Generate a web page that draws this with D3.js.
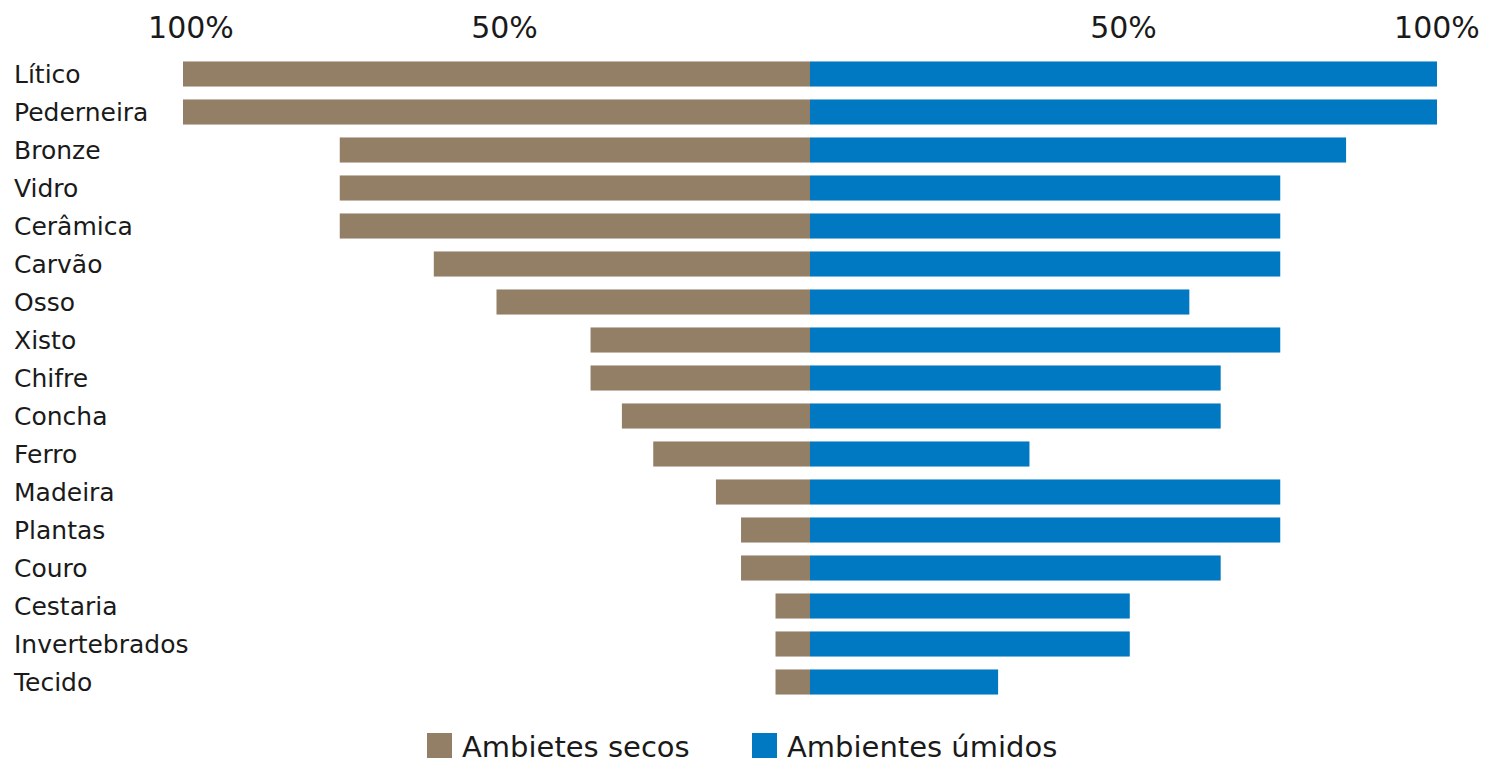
<!DOCTYPE html>
<html lang="pt">
<head>
  <meta charset="UTF-8">
  <title>Ambientes secos x úmidos</title>
  <script src="https://d3js.org/d3.v7.min.js"></script>
  <style>
    body { margin: 0; background: #fff; }
    text { font-family: "DejaVu Sans", sans-serif; fill: #1a1a1a; }
  </style>
</head>
<body>
<script>
  // categories, top to bottom
  const materials = ["Lítico", "Pederneira", "Bronze", "Vidro", "Cerâmica", "Carvão", "Osso",
    "Xisto", "Chifre", "Concha", "Ferro", "Madeira", "Plantas", "Couro", "Cestaria",
    "Invertebrados", "Tecido"];
  // % preserved in dry environments (left side)
  const secos = [100, 100, 75, 75, 75, 60, 50, 35, 35, 30, 25, 15, 11, 11, 5.5, 5.5, 5.5];
  // % preserved in wet environments (right side)
  const umidos = [100, 100, 85.5, 75, 75, 75, 60.5, 75, 65.5, 65.5, 35, 75, 75, 65.5, 51, 51, 30];
  const tickValues = [100, 50];
  const legendLabels = ["Ambietes secos", "Ambientes úmidos"];
  const colors = ["#927f66", "#0079c2"];

  const width = 1497, height = 764;
  const svg = d3.select("body").append("svg")
    .attr("width", width)
    .attr("height", height);

  // scales
  const center = 810;
  const xLeft = d3.scaleLinear().domain([0, 100]).range([center, 183]);
  const xRight = d3.scaleLinear().domain([0, 100]).range([center, 1437]);
  const y = d3.scaleBand()
    .domain(materials)
    .range([55, 701])
    .paddingInner(0.34)
    .paddingOuter(0.17);

  // top percentage labels
  svg.selectAll(".tickL")
    .data(tickValues)
    .enter().append("text")
    .attr("x", d => xLeft(d) + 8)
    .attr("y", 38)
    .attr("text-anchor", "middle")
    .style("font-size", "30px")
    .text(d => d + "%");

  svg.selectAll(".tickR")
    .data(tickValues)
    .enter().append("text")
    .attr("x", d => xRight(d))
    .attr("y", 38)
    .attr("text-anchor", "middle")
    .style("font-size", "30px")
    .text(d => d + "%");

  // bars
  svg.selectAll(".seco")
    .data(secos)
    .enter().append("rect")
    .attr("x", d => xLeft(d))
    .attr("y", (d, i) => y(materials[i]))
    .attr("width", d => center - xLeft(d))
    .attr("height", y.bandwidth())
    .attr("fill", colors[0]);

  svg.selectAll(".umido")
    .data(umidos)
    .enter().append("rect")
    .attr("x", center)
    .attr("y", (d, i) => y(materials[i]))
    .attr("width", d => xRight(d) - center)
    .attr("height", y.bandwidth())
    .attr("fill", colors[1]);

  // category labels
  svg.selectAll(".cat")
    .data(materials)
    .enter().append("text")
    .attr("x", 14)
    .attr("y", d => y(d) + y.bandwidth() / 2)
    .attr("dy", "0.36em")
    .style("font-size", "25px")
    .text(d => d);

  // legend
  const legendX = [427, 752];
  const lg = svg.selectAll(".legend")
    .data(legendLabels)
    .enter().append("g")
    .attr("transform", (d, i) => `translate(${legendX[i]},733)`);
  lg.append("rect")
    .attr("width", 25)
    .attr("height", 25)
    .attr("fill", (d, i) => colors[i]);
  lg.append("text")
    .attr("x", 35)
    .attr("y", 24)
    .style("font-size", "29px")
    .text(d => d);
</script>
</body>
</html>
